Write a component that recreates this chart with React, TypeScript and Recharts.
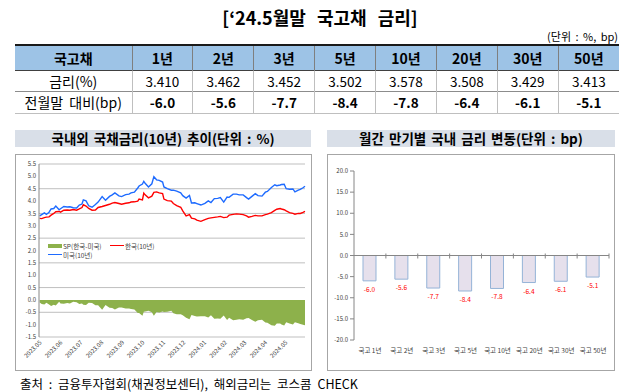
import React from "react";
import {
  ComposedChart,
  Area,
  Line,
  XAxis,
  YAxis,
  CartesianGrid,
  BarChart,
  Bar,
  LabelList,
  ReferenceLine,
} from "recharts";

const FONT = "'Noto Sans CJK KR', 'Noto Sans', sans-serif";

// 표 데이터
const tenors = ["1년", "2년", "3년", "5년", "10년", "20년", "30년", "50년"];
const yieldsPct = [3.41, 3.462, 3.452, 3.502, 3.578, 3.508, 3.429, 3.413];
const monthChangeBp = [-6.0, -5.6, -7.7, -8.4, -7.8, -6.4, -6.1, -5.1];

// 국내외 10년 금리 추이
const trendDates = [
  "2023-05-02", "2023-05-05", "2023-05-09", "2023-05-12", "2023-05-16", "2023-05-19",
  "2023-05-23", "2023-05-26", "2023-05-31", "2023-06-02", "2023-06-07", "2023-06-12",
  "2023-06-16", "2023-06-21", "2023-06-26", "2023-06-30", "2023-07-04", "2023-07-06",
  "2023-07-10", "2023-07-14", "2023-07-19", "2023-07-24", "2023-07-28", "2023-08-03",
  "2023-08-08", "2023-08-14", "2023-08-18", "2023-08-22", "2023-08-28", "2023-09-01",
  "2023-09-07", "2023-09-12", "2023-09-15", "2023-09-20", "2023-09-25", "2023-09-27",
  "2023-10-02", "2023-10-04", "2023-10-06", "2023-10-11", "2023-10-16", "2023-10-19",
  "2023-10-23", "2023-10-27", "2023-11-01", "2023-11-03", "2023-11-08", "2023-11-14",
  "2023-11-17", "2023-11-22", "2023-11-28", "2023-12-01", "2023-12-06", "2023-12-11",
  "2023-12-14", "2023-12-19", "2023-12-22", "2023-12-28", "2024-01-03", "2024-01-08",
  "2024-01-12", "2024-01-17", "2024-01-22", "2024-01-26", "2024-01-31", "2024-02-05",
  "2024-02-08", "2024-02-14", "2024-02-19", "2024-02-23", "2024-02-29", "2024-03-05",
  "2024-03-08", "2024-03-13", "2024-03-18", "2024-03-22", "2024-03-28", "2024-04-02",
  "2024-04-05", "2024-04-11", "2024-04-16", "2024-04-19", "2024-04-24", "2024-04-26",
  "2024-04-30", "2024-05-03", "2024-05-08", "2024-05-13", "2024-05-16", "2024-05-21",
  "2024-05-24", "2024-05-28", "2024-05-31",
];
const usTenYear = [
  3.40, 3.45, 3.52, 3.46, 3.55, 3.68, 3.70, 3.80, 3.65, 3.69, 3.78, 3.76,
  3.77, 3.73, 3.72, 3.84, 3.88, 4.05, 4.01, 3.81, 3.75, 3.86, 3.96, 4.18,
  4.03, 4.19, 4.25, 4.33, 4.21, 4.18, 4.26, 4.28, 4.33, 4.36, 4.53, 4.61,
  4.69, 4.80, 4.72, 4.57, 4.70, 4.99, 4.86, 4.84, 4.77, 4.57, 4.50, 4.44,
  4.44, 4.40, 4.33, 4.22, 4.12, 4.23, 3.92, 3.93, 3.90, 3.84, 3.91, 4.01,
  3.94, 4.10, 4.11, 4.14, 3.96, 4.16, 4.15, 4.28, 4.28, 4.25, 4.25, 4.14,
  4.08, 4.19, 4.30, 4.22, 4.20, 4.36, 4.39, 4.55, 4.66, 4.62, 4.65, 4.67,
  4.68, 4.50, 4.48, 4.49, 4.37, 4.44, 4.47, 4.54, 4.60,
];
const krTenYear = [
  3.30, 3.29, 3.33, 3.35, 3.36, 3.43, 3.50, 3.57, 3.58, 3.55, 3.63, 3.64,
  3.63, 3.66, 3.63, 3.68, 3.74, 3.85, 3.80, 3.70, 3.63, 3.64, 3.74, 3.78,
  3.82, 3.87, 3.92, 3.94, 3.90, 3.87, 3.91, 3.93, 3.96, 3.97, 4.00, 4.08,
  4.05, 4.32, 4.25, 4.13, 4.20, 4.35, 4.37, 4.33, 4.30, 4.08, 4.02, 4.00,
  3.90, 3.82, 3.75, 3.60, 3.40, 3.45, 3.31, 3.28, 3.23, 3.18, 3.25, 3.30,
  3.32, 3.34, 3.36, 3.38, 3.33, 3.35, 3.43, 3.46, 3.48, 3.47, 3.45, 3.40,
  3.35, 3.38, 3.42, 3.40, 3.40, 3.45, 3.47, 3.53, 3.62, 3.67, 3.70, 3.68,
  3.65, 3.60, 3.53, 3.50, 3.47, 3.50, 3.50, 3.54, 3.58,
];
const monthLabels = [
  "2023.05", "2023.06", "2023.07", "2023.08", "2023.09", "2023.10", "2023.11",
  "2023.12", "2024.01", "2024.02", "2024.03", "2024.04", "2024.05",
];
const trendYTicks = [-1.5, -1.0, -0.5, 0, 0.5, 1.0, 1.5, 2.0, 2.5, 3.0, 3.5, 4.0, 4.5, 5.0, 5.5];
const changeYTicks = [-20, -15, -10, -5, 0, 5, 10, 15, 20];

const trendData = trendDates.map((d, i) => ({
  t: Date.parse(d),
  us: usTenYear[i],
  kr: krTenYear[i],
  spread: +(krTenYear[i] - usTenYear[i]).toFixed(2),
}));
const monthTickValues = monthLabels.map((m) => Date.parse(m.replace(".", "-") + "-01"));
const trendStart = Date.parse("2023-05-01");
const trendEnd = Date.parse("2024-05-31");

const barData = tenors.map((t, i) => ({ name: "국고 " + t, value: monthChangeBp[i] }));

function fmtMonth(v: number) {
  const idx = monthTickValues.indexOf(v);
  return idx >= 0 ? monthLabels[idx] : "";
}

function BarValueLabel(props: any) {
  const { x, y, width, height, value } = props;
  const bottom = Math.max(y, y + height);
  return (
    <text
      x={x + width / 2}
      y={bottom + 11}
      fill="#FF0000"
      fontSize={6.5}
      textAnchor="middle"
    >
      {Number(value).toFixed(1)}
    </text>
  );
}

function ZeroAxis(props: any) {
  const { x1, x2, y1 } = props;
  const n = barData.length;
  const step = (x2 - x1) / n;
  const marks = [];
  for (let i = 1; i <= n; i++) {
    const mx = x1 + step * i;
    marks.push(
      <line key={i} x1={mx} x2={mx} y1={y1 - 2} y2={y1 + 3} stroke="#868686" strokeWidth={1} />,
    );
  }
  return (
    <g>
      <line x1={x1} x2={x2} y1={y1} y2={y1} stroke="#868686" strokeWidth={1} />
      {marks}
    </g>
  );
}

const tableBorder = "1px solid #8C8C8C";
const cellBase: React.CSSProperties = {
  textAlign: "center",
  padding: 0,
  fontSize: 13.5,
  color: "#000",
  borderLeft: "1px solid #BFBFBF",
};

function RateTable() {
  return (
    <table
      style={{
        position: "absolute",
        left: 15,
        top: 44,
        width: 604,
        borderCollapse: "collapse",
        tableLayout: "fixed",
        fontFamily: FONT,
      }}
    >
      <colgroup>
        <col style={{ width: 117 }} />
        {tenors.map((t) => (
          <col key={t} />
        ))}
      </colgroup>
      <tbody>
        <tr style={{ height: 25, background: "#9DC3E6", borderTop: "2px solid #1a1a1a", borderBottom: "1px solid #404040" }}>
          <td style={{ ...cellBase, borderLeft: "none", fontWeight: 700, fontSize: 14 }}>국고채</td>
          {tenors.map((t) => (
            <td key={t} style={{ ...cellBase, fontWeight: 700, fontSize: 14, borderLeft: "1px solid #7F7F7F" }}>
              {t}
            </td>
          ))}
        </tr>
        <tr style={{ height: 21, borderBottom: tableBorder }}>
          <td style={{ ...cellBase, borderLeft: "none", fontSize: 14 }}>금리(%)</td>
          {yieldsPct.map((v, i) => (
            <td key={i} style={cellBase}>
              {v.toFixed(3)}
            </td>
          ))}
        </tr>
        <tr style={{ height: 22, borderBottom: "1px solid #BFBFBF" }}>
          <td style={{ ...cellBase, borderLeft: "none", fontSize: 14, wordSpacing: 3 }}>전월말 대비(bp)</td>
          {monthChangeBp.map((v, i) => (
            <td key={i} style={{ ...cellBase, fontWeight: 700 }}>
              {v.toFixed(1)}
            </td>
          ))}
        </tr>
      </tbody>
    </table>
  );
}

function SectionHeader({ left, width, text }: { left: number; width: number; text: string }) {
  return (
    <div
      style={{
        position: "absolute",
        left,
        top: 130,
        width,
        height: 17,
        background: "#D9DFE8",
        fontWeight: 700,
        fontSize: 13.5,
        lineHeight: "17px",
        textAlign: "center",
        wordSpacing: 2,
        color: "#000",
      }}
    >
      {text}
    </div>
  );
}

function LegendItem({ left, top, color, swatch, label }: any) {
  return (
    <div style={{ position: "absolute", left, top, height: 9, display: "flex", alignItems: "center", fontSize: 6.5, color: "#404040" }}>
      <span
        style={{
          display: "inline-block",
          width: 14,
          height: swatch === "box" ? 4 : 1.5,
          background: color,
          marginRight: 1,
        }}
      />
      <span>{label}</span>
    </div>
  );
}

function TrendChart() {
  return (
    <div style={{ position: "absolute", left: 15, top: 154, width: 297, height: 217, border: "1px solid #A6A6A6", boxSizing: "border-box" }}>
      <div style={{ position: "absolute", left: -1, top: -1 }}>
        <ComposedChart width={297} height={217} data={trendData} margin={{ top: 10, right: 7, left: 4, bottom: 4 }}>
          <CartesianGrid vertical={false} stroke="#BFBFBF" />
          <XAxis
            dataKey="t"
            type="number"
            domain={[trendStart, trendEnd]}
            ticks={monthTickValues}
            tickFormatter={fmtMonth}
            interval={0}
            angle={-45}
            textAnchor="end"
            height={30}
            tickSize={2}
            tickMargin={1}
            axisLine={false}
            tickLine={false}
            tick={{ fontSize: 6, fill: "#404040" }}
          />
          <YAxis
            domain={[-1.5, 5.5]}
            ticks={trendYTicks}
            tickFormatter={(v: number) => v.toFixed(1)}
            width={20}
            tickSize={2}
            tickMargin={1}
            tickLine={false}
            axisLine={{ stroke: "#868686" }}
            tick={{ fontSize: 6, fill: "#404040" }}
          />
          <Area dataKey="spread" type="linear" fill="#8DB14B" fillOpacity={1} stroke="none" isAnimationActive={false} />
          <Line dataKey="kr" type="linear" stroke="#FF0000" strokeWidth={1.4} dot={false} isAnimationActive={false} />
          <Line dataKey="us" type="linear" stroke="#1E6BFF" strokeWidth={1.4} dot={false} isAnimationActive={false} />
        </ComposedChart>
      </div>
      <LegendItem left={32} top={86} color="#8DB14B" swatch="box" label="SP(한국-미국)" />
      <LegendItem left={94} top={86} color="#FF0000" swatch="line" label="한국(10년)" />
      <LegendItem left={32} top={95} color="#1E6BFF" swatch="line" label="미국(10년)" />
    </div>
  );
}

function ChangeChart() {
  return (
    <div style={{ position: "absolute", left: 327, top: 154, width: 288, height: 217, border: "1px solid #A6A6A6", boxSizing: "border-box" }}>
      <div style={{ position: "absolute", left: -1, top: -1 }}>
        <BarChart width={288} height={217} data={barData} margin={{ top: 17, right: 6, left: 3, bottom: 0 }}>
          <XAxis
            dataKey="name"
            interval={0}
            height={31}
            tickSize={6}
            tickMargin={2}
            axisLine={false}
            tickLine={false}
            tick={{ fontSize: 6.5, fill: "#404040" }}
          />
          <YAxis
            domain={[-20, 20]}
            ticks={changeYTicks}
            tickFormatter={(v: number) => v.toFixed(1)}
            width={24}
            tickSize={4}
            tickMargin={2}
            axisLine={{ stroke: "#868686" }}
            tickLine={{ stroke: "#868686" }}
            tick={{ fontSize: 6, fill: "#404040" }}
          />
          <ReferenceLine y={0} stroke="#868686" shape={ZeroAxis} />
          <Bar dataKey="value" fill="#E6E0EC" stroke="#95B3D7" strokeWidth={1} barSize={13} isAnimationActive={false}>
            <LabelList dataKey="value" content={BarValueLabel} />
          </Bar>
        </BarChart>
      </div>
    </div>
  );
}

export default function App() {
  return (
    <div
      style={{
        position: "absolute",
        left: 0,
        top: 0,
        width: 640,
        height: 392,
        background: "#fff",
        fontFamily: FONT,
        overflow: "hidden",
      }}
    >
      <div
        style={{
          position: "absolute",
          left: 0,
          top: 5,
          width: 640,
          textAlign: "center",
          fontSize: 18,
          fontWeight: 700,
          wordSpacing: 7,
          lineHeight: "24px",
        }}
      >
        [‘24.5월말 국고채 금리]
      </div>
      <div style={{ position: "absolute", right: 22, top: 28, fontSize: 11, color: "#000", wordSpacing: 2 }}>
        (단위 : %, bp)
      </div>
      <RateTable />
      <SectionHeader left={15} width={296} text="국내외 국채금리(10년) 추이(단위 : %)" />
      <SectionHeader left={327} width={288} text="월간 만기별 국내 금리 변동(단위 : bp)" />
      <TrendChart />
      <ChangeChart />
      <div style={{ position: "absolute", left: 20, top: 374, fontSize: 12.5, color: "#000", whiteSpace: "nowrap", wordSpacing: 3 }}>
        출처 : 금융투자협회(채권정보센터), 해외금리는 코스콤 CHECK
      </div>
    </div>
  );
}
